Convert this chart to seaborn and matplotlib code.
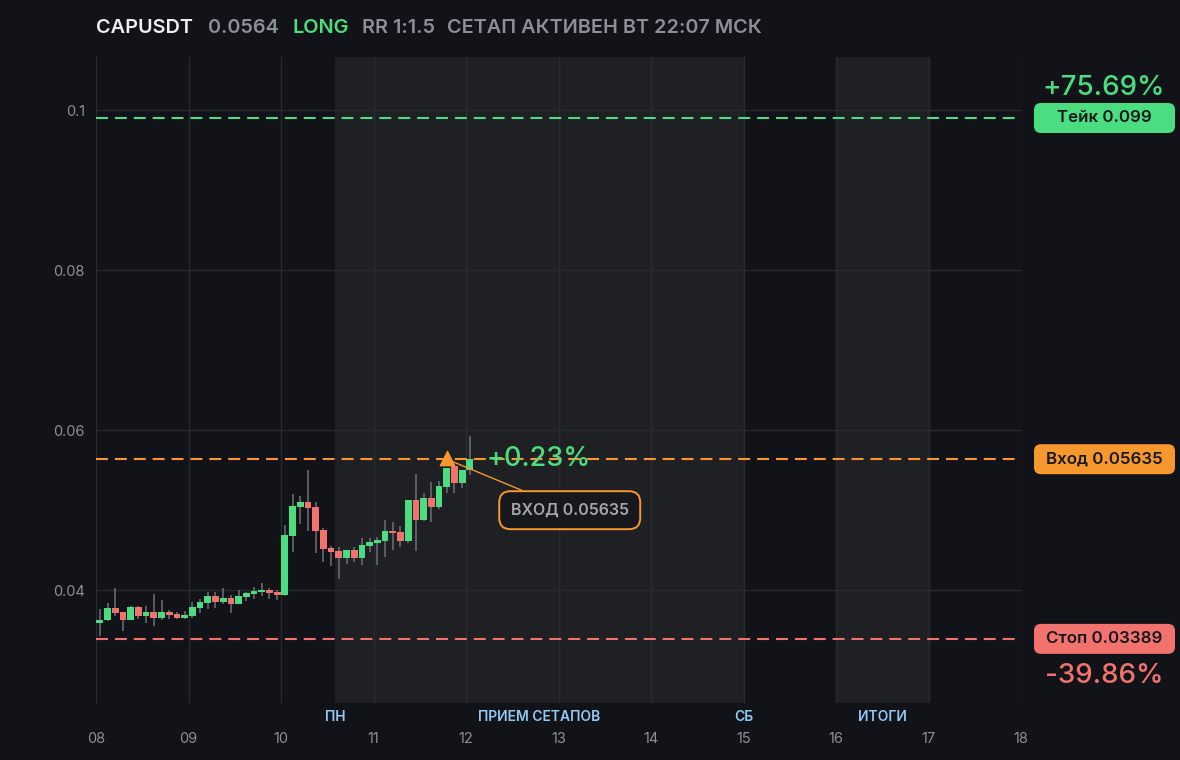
import numpy as np
import pandas as pd
import matplotlib
matplotlib.use("Agg")
import matplotlib.pyplot as plt
import seaborn as sns
from matplotlib.patches import FancyBboxPatch

# ---------------- data ----------------
symbol = "CAPUSDT"
last_price = "0.0564"
side = "LONG"
rr_text = "RR 1:1.5"
status_text = "СЕТАП АКТИВЕН ВТ 22:07 МСК"

start_day = 8          # first candle opens at day 08, 00:00
candle_hours = 2

opens = [0.0359, 0.0362, 0.0378, 0.0372, 0.0363, 0.0379, 0.0368, 0.0373, 0.0365, 0.0373,
         0.0370, 0.0365, 0.0368, 0.0378, 0.0384, 0.0393, 0.0385, 0.0390, 0.0383, 0.0391,
         0.0395, 0.0398, 0.0400, 0.0398, 0.0394, 0.0468, 0.0504, 0.0510, 0.0504, 0.0475,
         0.0453, 0.0449, 0.0440, 0.0450, 0.0440, 0.0455, 0.0459, 0.0461, 0.0474, 0.0473,
         0.0461, 0.0513, 0.0488, 0.0515, 0.0504, 0.0529, 0.0555, 0.0534, 0.0550]
highs = [0.0376, 0.0384, 0.0403, 0.0373, 0.0380, 0.0380, 0.0380, 0.0395, 0.0388, 0.0375,
         0.0373, 0.0374, 0.0385, 0.0389, 0.0398, 0.0398, 0.0403, 0.0394, 0.0400, 0.0398,
         0.0404, 0.0409, 0.0403, 0.0400, 0.0481, 0.0520, 0.0518, 0.0550, 0.0510, 0.0478,
         0.0455, 0.0454, 0.0450, 0.0454, 0.0465, 0.0465, 0.0466, 0.0488, 0.0485, 0.0480,
         0.0513, 0.0545, 0.0521, 0.0535, 0.0536, 0.0553, 0.0556, 0.0550, 0.0593]
lows = [0.0342, 0.0361, 0.0368, 0.0349, 0.0362, 0.0364, 0.0359, 0.0355, 0.0363, 0.0364,
        0.0364, 0.0364, 0.0365, 0.0371, 0.0376, 0.0378, 0.0383, 0.0371, 0.0382, 0.0386,
        0.0389, 0.0393, 0.0389, 0.0388, 0.0393, 0.0448, 0.0483, 0.0474, 0.0446, 0.0435,
        0.0430, 0.0414, 0.0433, 0.0435, 0.0431, 0.0448, 0.0431, 0.0441, 0.0450, 0.0454,
        0.0459, 0.0449, 0.0486, 0.0485, 0.0501, 0.0521, 0.0521, 0.0528, 0.0544]
closes = [0.0362, 0.0378, 0.0371, 0.0363, 0.0379, 0.0368, 0.0373, 0.0365, 0.0373, 0.0369,
          0.0365, 0.0369, 0.0379, 0.0385, 0.0393, 0.0385, 0.0390, 0.0383, 0.0393, 0.0396,
          0.0399, 0.0400, 0.0396, 0.0394, 0.0469, 0.0505, 0.0510, 0.0503, 0.0474, 0.0451,
          0.0448, 0.0440, 0.0450, 0.0440, 0.0456, 0.0460, 0.0463, 0.0474, 0.0471, 0.0461,
          0.0513, 0.0488, 0.0515, 0.0504, 0.0530, 0.0553, 0.0534, 0.0550, 0.0564]

take_price = 0.099
entry_price = 0.05635
stop_price = 0.03389
take_label = "Тейк 0.099"
entry_label = "Вход 0.05635"
stop_label = "Стоп 0.03389"
take_pct = "+75.69%"
stop_pct = "-39.86%"
current_pct = "+0.23%"
entry_box_label = "ВХОД 0.05635"
entry_candle = 45

day_ticks = list(range(8, 19))
day_labels = [f"{d:02d}" for d in day_ticks]
y_ticks = [0.04, 0.06, 0.08, 0.1]
y_tick_labels = ["0.04", "0.06", "0.08", "0.1"]

shade_spans = [(10 + 14 / 24, 15.0), (16.0, 17.0)]
period_labels = ["ПН", "ПРИЕМ СЕТАПОВ", "СБ", "ИТОГИ"]
period_days = [10 + 14 / 24, 12.79, 15.0, 16.5]

# ---------------- style ----------------
BG = "#121318"
SHADE = "#1f2024"
GRID = "#2a2b30"
GREEN = "#4ade80"
RED = "#f2736e"
ORANGE = "#f7982e"
GRAY = "#8b8f97"
WICK = "#6d7077"
BLUE = "#93c9f5"

sns.set_theme(style="dark", rc={
    "axes.facecolor": BG, "figure.facecolor": BG, "savefig.facecolor": BG,
    "axes.edgecolor": BG, "lines.scale_dashes": False,
})
plt.rcParams["font.family"] = ["Inter", "DejaVu Sans"]

W, H = 1180, 760
fig = plt.figure(figsize=(W / 100, H / 100), dpi=100)
ax = fig.add_axes([96 / W, 1 - 703 / H, (1021 - 96) / W, (703 - 57) / H])
ax.set_facecolor(BG)

df = pd.DataFrame({"open": opens, "high": highs, "low": lows, "close": closes})
df["t"] = start_day + (np.arange(len(df)) * candle_hours + candle_hours / 2) / 24
df["up"] = df["close"] >= df["open"]

# shaded sessions
for a, b in shade_spans:
    ax.axvspan(a, b, color=SHADE, lw=0, zorder=0)

# grid
for d in day_ticks:
    ax.axvline(d, color=GRID, lw=1, zorder=1)
for yv in y_ticks:
    ax.axhline(yv, color=GRID, lw=1, zorder=1)

# candles
w = candle_hours / 24 * 0.88
ax.vlines(df["t"], df["low"], df["high"], color=WICK, lw=1.1, zorder=2)
body_bottom = np.minimum(df["open"], df["close"])
body_h = np.maximum(np.abs(df["close"] - df["open"]), 0.00008)
ax.bar(df["t"], body_h, bottom=body_bottom, width=w,
       color=np.where(df["up"], GREEN, RED), lw=0, zorder=3)

# levels
dash = (0, (8.6, 5.0))
ax.axhline(take_price, color=GREEN, lw=1.5, ls=dash, zorder=4)
ax.axhline(entry_price, color=ORANGE, lw=1.5, ls=dash, zorder=4)
ax.axhline(stop_price, color=RED, lw=1.5, ls=dash, zorder=4)

ax.set_xlim(8, 18)
ax.set_ylim(0.025875, 0.106625)

# entry marker
entry_t = df["t"].iloc[entry_candle]
sns.scatterplot(x=[entry_t], y=[entry_price + 0.0001], marker="^", s=110, color=ORANGE,
                edgecolor=ORANGE, ax=ax, zorder=6, legend=False)

ax.annotate(entry_box_label, xy=(entry_t, entry_price), xytext=(123, -51),
            textcoords="offset pixels", ha="center", va="center",
            fontsize=11.5, fontweight="semibold", color="#a3a7ae",
            bbox=dict(boxstyle="round,pad=0.72,rounding_size=0.7", fc="#16181d",
                      ec=ORANGE, lw=1.4),
            arrowprops=dict(arrowstyle="-", color=ORANGE, lw=1.0, shrinkA=0, shrinkB=0),
            zorder=7)

ax.annotate(current_pct, xy=(entry_t, entry_price), xytext=(40, 0),
            textcoords="offset pixels", fontsize=19.5, color=GREEN,
            ha="left", va="center", fontweight="medium", zorder=7)

# ticks
ax.set_xticks(day_ticks)
ax.set_xticklabels(day_labels)
ax.set_yticks(y_ticks)
ax.set_yticklabels(y_tick_labels)
ax.tick_params(axis="x", length=0, pad=21, labelsize=10.5, labelcolor=GRAY)
ax.tick_params(axis="y", length=0, pad=8, labelsize=10.5, labelcolor=GRAY)
ax.grid(False)
for s in ax.spines.values():
    s.set_visible(False)

# period labels under the axis
for lab, d in zip(period_labels, period_days):
    ax.text(d, -0.022, lab, transform=ax.get_xaxis_transform(), ha="center", va="center",
            fontsize=10, fontweight="semibold", color=BLUE)

# title
title_parts = [(symbol, "#f0f1f3", 96), (last_price, GRAY, 208), (side, GREEN, 292),
               (rr_text, GRAY, 362), (status_text, GRAY, 447)]
for txt, col, xp in title_parts:
    fig.text(xp / W, 1 - 28 / H, txt, ha="left", va="center", fontsize=14.3,
             fontweight="semibold", color=col)

# right-hand pills
inv = fig.transFigure.inverted()
pill_w, pill_h = 141 / W, 30 / H
pill_x0 = 1034 / W
for price, lab, col in [(take_price, take_label, GREEN), (entry_price, entry_label, ORANGE),
                        (stop_price, stop_label, RED)]:
    yc = inv.transform(ax.transData.transform((10, price)))[1]
    p = FancyBboxPatch((pill_x0, yc - pill_h / 2), pill_w, pill_h,
                       boxstyle="round,pad=0,rounding_size=%f" % (7 / W),
                       mutation_aspect=W / H, transform=fig.transFigure,
                       fc=col, ec="none")
    fig.add_artist(p)
    fig.text(pill_x0 + pill_w / 2, yc, lab, ha="center", va="center", fontsize=12.2,
             fontweight="semibold", color="#16171b")

fig.text(1104 / W, 1 - 88 / H, take_pct, ha="center", va="center", fontsize=20,
         color=GREEN, fontweight="medium")
fig.text(1104 / W, 1 - 676 / H, stop_pct, ha="center", va="center", fontsize=20,
         color=RED, fontweight="medium")

fig.savefig("out.png", dpi=100)
